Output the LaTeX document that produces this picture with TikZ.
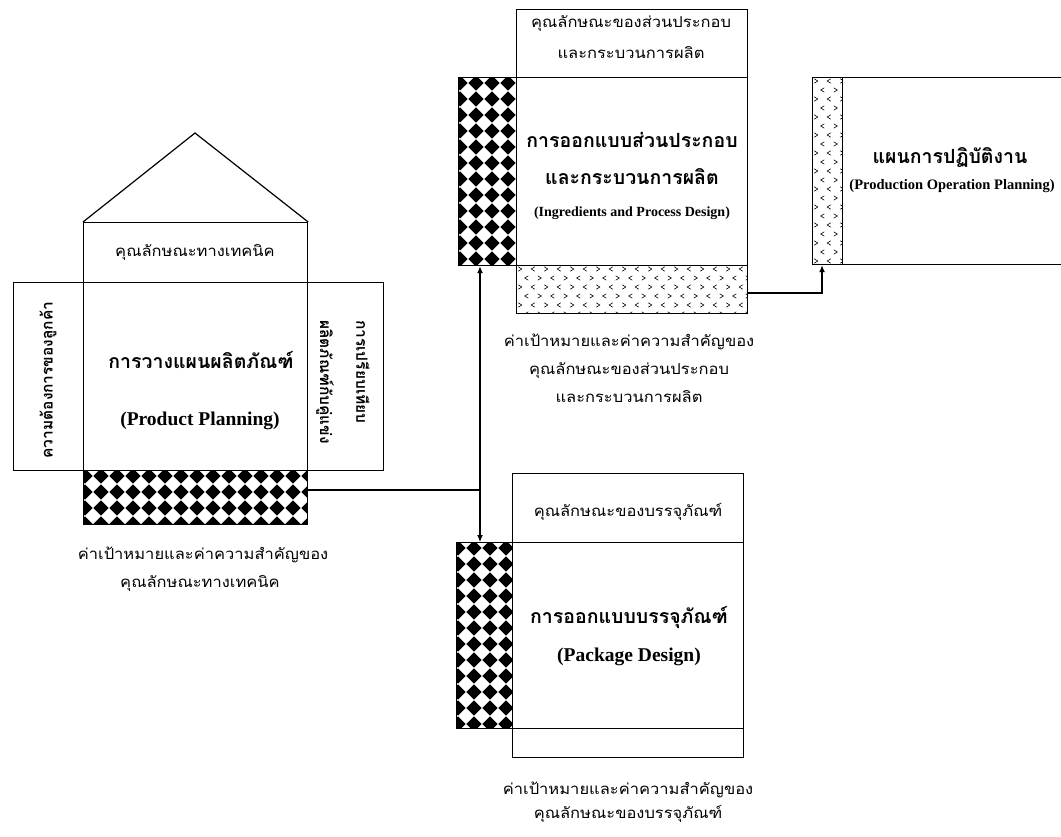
\documentclass[tikz,border=0pt]{standalone}
\usepackage{fontspec}
\setmainfont{Liberation Serif}
\newfontfamily\thai[Script=Thai]{Loma}
\newfontfamily\thaiw[Script=Thai,FakeStretch=1.1]{Loma}
\usetikzlibrary{arrows.meta}
\newcommand\cellsz{16}
\newcommand\chkfill[4]{%
  \begin{scope}
  \clip (#1,#2) rectangle (#3,#4);
  \pgfmathtruncatemacro\nxx{(#3-#1)/\cellsz+1}
  \pgfmathtruncatemacro\nyy{(#4-#2)/\cellsz+1}
  \foreach \i in {0,...,\nxx}{\foreach \j in {0,...,\nyy}{
    \fill ({#1+2+\i*\cellsz},{#2+6+\j*\cellsz}) +(-7.6,0) -- +(0,-7.6) -- +(7.6,0) -- +(0,7.6) -- cycle;}}
  \end{scope}}
\newcommand\chevfill[4]{%
  \begin{scope}
  \clip (#1,#2) rectangle (#3,#4);
  \pgfmathtruncatemacro\nxx{(#3-#1)/13+1}
  \pgfmathtruncatemacro\nyy{(#4-#2)/9+1}
  \foreach \j in {0,...,\nyy}{\foreach \i in {0,...,\nxx}{
    \pgfmathsetmacro\xx{#1+4+\i*13+mod(\j,2)*6.5}
    \pgfmathsetmacro\yy{#2+4+\j*9}
    \pgfmathtruncatemacro\dir{mod(\i+\j,2)}
    \ifnum\dir=0
      \draw[chv] (\xx-1.8,\yy-2.2) -- (\xx+1.8,\yy) -- (\xx-1.8,\yy+2.2);
    \else
      \draw[chv] (\xx+1.8,\yy-2.2) -- (\xx-1.8,\yy) -- (\xx+1.8,\yy+2.2);
    \fi}}
  \end{scope}}
\tikzset{
  box/.style={draw, line width=1.2pt, inner sep=0pt, anchor=north west},
  ln/.style={line width=1.2pt},
  arr/.style={-{Latex[length=7pt,width=6pt]}},
  chv/.style={line width=0.6pt},
  small/.style={font=\thaiw\fontsize{15}{18}\selectfont, inner sep=0pt},
  title/.style={font=\thai\bfseries\fontsize{19.5}{22}\selectfont, inner sep=0pt},
  eng/.style={font=\bfseries\fontsize{14}{16}\selectfont, inner sep=0pt},
  engbig/.style={font=\bfseries\fontsize{19.5}{22}\selectfont, inner sep=0pt},
  vert/.style={font=\thai\bfseries\fontsize{15.5}{18}\selectfont, inner sep=0pt},
}
\begin{document}
\begin{tikzpicture}[x=1pt,y=-1pt]
\useasboundingbox (0,0) rectangle (1061,836);
\clip (0,0) rectangle (1061,836);
\fill[white] (0,0) rectangle (1061,836);

% ---------- Left house: product planning ----------
\node[box, minimum width=224pt, minimum height=60pt] (ltop) at (83,222) {};
\draw[ln] (ltop.north west) -- (195,133) coordinate (roof) -- (ltop.north east);
\node[box, minimum width=70pt, minimum height=188pt] (lleft) at (13,282) {};
\node[box, minimum width=224pt, minimum height=188pt] (lmain) at (83,282) {};
\node[box, minimum width=76pt, minimum height=188pt] (lright) at (307,282) {};
\chkfill{83}{470}{307}{524}
\node[box, minimum width=224pt, minimum height=54pt] (lpat) at (83,470) {};

\node[small] (t1) at (195,252) {คุณลักษณะทางเทคนิค};
\node[vert, rotate=90] (t2) at (48,380) {ความต้องการของลูกค้า};
\node[vert, rotate=-90, anchor=west] (t3) at (363,320) {การเปรียบเทียบ};
\node[vert, rotate=-90, anchor=west] (t4) at (325,320) {ผลิตภัณฑ์กับคู่แข่ง};
\node[title] (t5) at (201,360) {การวางแผนผลิตภัณฑ์};
\node[engbig] (t6) at (200,421) {(Product Planning)};
\node[small] (t7) at (203,555) {ค่าเป้าหมายและค่าความสำคัญของ};
\node[small] (t8) at (200,583) {คุณลักษณะทางเทคนิค};

% ---------- Top centre: ingredients and process design ----------
\node[box, minimum width=231pt, minimum height=68pt] (tchead) at (516,9) {};
\node[box, minimum width=231pt, minimum height=188pt] (tcmain) at (516,77) {};
\chkfill{458}{77}{516}{265}
\node[box, minimum width=58pt, minimum height=188pt] (tcpat) at (458,77) {};
\chevfill{516}{265}{747}{313}
\node[box, minimum width=231pt, minimum height=48pt] (tcdot) at (516,265) {};

\node[small] (c1) at (631,23) {คุณลักษณะของส่วนประกอบ};
\node[small] (c2) at (631,53) {และกระบวนการผลิต};
\node[title] (c3) at (632,140) {การออกแบบส่วนประกอบ};
\node[title] (c4) at (632,177) {และกระบวนการผลิต};
\node[eng] (c5) at (632,213) {(Ingredients and Process Design)};
\node[small] (c6) at (629,342) {ค่าเป้าหมายและค่าความสำคัญของ};
\node[small] (c7) at (629,370) {คุณลักษณะของส่วนประกอบ};
\node[small] (c8) at (629,397) {และกระบวนการผลิต};

% ---------- Right: production operation planning ----------
\chevfill{812}{77}{842}{264}
\node[box, minimum width=30pt, minimum height=187pt] (rpat) at (812,77) {};
\node[box, minimum width=240pt, minimum height=187pt] (rmain) at (842,77) {};
\node[title] (r1) at (950,158) {แผนการปฏิบัติงาน};
\node[eng, font=\bfseries\fontsize{14.5}{16}\selectfont] (r2) at (952,186) {(Production Operation Planning)};

% ---------- Lower: package design ----------
\node[box, minimum width=231pt, minimum height=69pt] (lohead) at (512,473) {};
\node[box, minimum width=231pt, minimum height=186pt] (lomain) at (512,542) {};
\chkfill{456}{542}{512}{728}
\node[box, minimum width=56pt, minimum height=186pt] (lopat) at (456,542) {};
\node[box, minimum width=231pt, minimum height=29pt] (lobot) at (512,728) {};

\node[small] (p1) at (628,512) {คุณลักษณะของบรรจุภัณฑ์};
\node[title] (p2) at (629,617) {การออกแบบบรรจุภัณฑ์};
\node[engbig] (p3) at (629,657) {(Package Design)};
\node[small] (p4) at (628,790) {ค่าเป้าหมายและค่าความสำคัญของ};
\node[small] (p5) at (628,814) {คุณลักษณะของบรรจุภัณฑ์};

% ---------- Connectors ----------
\coordinate (j) at (480,490);
\coordinate (k) at (822,293);
\draw[ln] (lpat.east |- j) -- (j);
\draw[ln,arr] (j) -- (j |- tcpat.south);
\draw[ln,arr] (j) -- (j |- lopat.north);
\draw[ln,arr] (tcdot.east |- k) -- (k) -- (k |- rpat.south);
\end{tikzpicture}
\end{document}
